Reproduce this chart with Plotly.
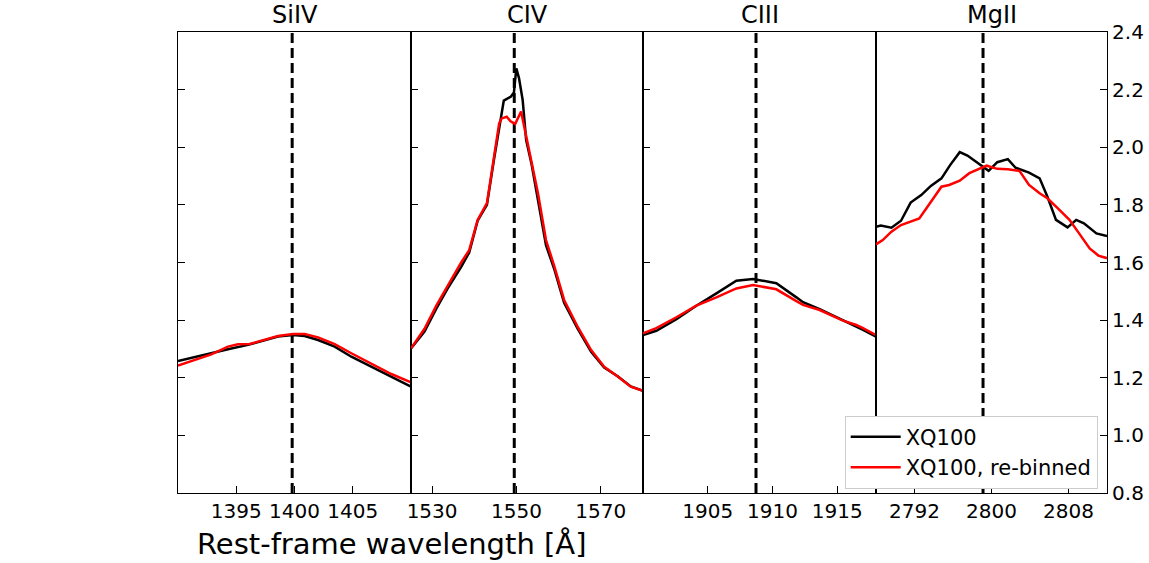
import plotly.graph_objects as go

W, H = 1149, 563

# ---------------- data ----------------
line_names = ["SiIV", "CIV", "CIII", "MgII"]
line_centres = [1399.8, 1549.48, 1908.73, 2799.12]
x_ranges = [[1390, 1410], [1525, 1580], [1900, 1918], [2788, 2812]]
x_tickvals = [[1395, 1400, 1405], [1530, 1550, 1570], [1905, 1910, 1915], [2792, 2800, 2808]]
y_tickvals = [0.8, 1.0, 1.2, 1.4, 1.6, 1.8, 2.0, 2.2, 2.4]

siiv_wave_xq = [1390, 1392.86, 1394.29, 1396.01, 1397.44, 1398.58, 1399.87, 1400.87, 1402.02, 1403.45, 1404.88, 1406.6, 1408.31, 1409.91, 1410]
siiv_flux_xq = [1.258, 1.287, 1.299, 1.314, 1.331, 1.343, 1.348, 1.345, 1.331, 1.308, 1.273, 1.238, 1.206, 1.171, 1.169]
siiv_wave_rb = [1390, 1391.43, 1392.86, 1394.29, 1395.15, 1396.15, 1397.44, 1398.58, 1399.87, 1400.87, 1402.02, 1403.45, 1404.88, 1406.6, 1408.31, 1410]
siiv_flux_rb = [1.242, 1.262, 1.281, 1.308, 1.316, 1.317, 1.331, 1.345, 1.352, 1.352, 1.340, 1.317, 1.285, 1.248, 1.213, 1.184]

civ_wave_xq = [1525, 1528.2, 1531, 1533.7, 1536.9, 1538.8, 1540.8, 1543, 1544.7, 1545.9, 1547.0, 1548.7, 1549.4, 1549.97, 1550.6, 1551.47, 1552.3, 1553.6, 1555.1, 1557, 1559, 1561.3, 1564.5, 1567.7, 1570.8, 1574, 1577.1, 1580]
civ_flux_xq = [1.302, 1.36, 1.44, 1.51, 1.585, 1.635, 1.745, 1.80, 1.96, 2.07, 2.162, 2.176, 2.19, 2.274, 2.24, 2.164, 2.025, 1.94, 1.82, 1.66, 1.575, 1.46, 1.37, 1.29, 1.235, 1.205, 1.17, 1.155]
civ_wave_rb = [1525, 1528.2, 1531, 1533.7, 1536.9, 1538.8, 1540.8, 1543, 1544.7, 1545.9, 1546.5, 1547.7, 1548.6, 1549.7, 1551.1, 1552.3, 1553.6, 1555.1, 1557, 1559, 1561.3, 1564.5, 1567.7, 1570.8, 1574, 1577.1, 1580]
civ_flux_rb = [1.302, 1.37, 1.45, 1.52, 1.60, 1.643, 1.748, 1.806, 1.967, 2.083, 2.10, 2.106, 2.09, 2.081, 2.124, 2.038, 1.956, 1.840, 1.678, 1.586, 1.47, 1.377, 1.296, 1.238, 1.204, 1.169, 1.155]

ciii_wave = [1900, 1901.03, 1902.58, 1904.12, 1905.67, 1907.21, 1908.5, 1910.3, 1911.85, 1912.36, 1913.65, 1915.45, 1916.48, 1917, 1918]
ciii_flux_xq = [1.348, 1.363, 1.403, 1.450, 1.493, 1.537, 1.543, 1.528, 1.479, 1.462, 1.438, 1.400, 1.378, 1.366, 1.343]
ciii_flux_rb = [1.354, 1.372, 1.410, 1.450, 1.479, 1.510, 1.522, 1.507, 1.466, 1.453, 1.435, 1.398, 1.383, 1.372, 1.348]

mgii_wave_xq = [2788, 2788.5, 2789.6, 2790.6, 2791.6, 2792.7, 2793.7, 2794.8, 2795.7, 2796.7, 2797.5, 2798.4, 2799.1, 2799.7, 2800.6, 2801.7, 2802.5, 2803.9, 2805, 2805.8, 2806.7, 2807.9, 2808.8, 2809.6, 2810.9, 2812]
mgii_flux_xq = [1.724, 1.728, 1.721, 1.745, 1.808, 1.834, 1.866, 1.892, 1.938, 1.983, 1.971, 1.95, 1.935, 1.918, 1.948, 1.959, 1.929, 1.912, 1.892, 1.829, 1.748, 1.722, 1.748, 1.736, 1.701, 1.692]
mgii_wave_rb = [2788, 2788.7, 2789.6, 2790.6, 2792.5, 2793.7, 2794.8, 2795.6, 2796.7, 2797.7, 2798.7, 2799.5, 2800.6, 2801.7, 2802.9, 2803.9, 2805, 2805.8, 2806.9, 2808.1, 2809.1, 2810.2, 2811.1, 2812]
mgii_flux_rb = [1.663, 1.678, 1.707, 1.73, 1.753, 1.811, 1.863, 1.869, 1.884, 1.91, 1.925, 1.936, 1.925, 1.924, 1.918, 1.869, 1.84, 1.823, 1.788, 1.748, 1.701, 1.649, 1.624, 1.615]

series_xq = [(siiv_wave_xq, siiv_flux_xq), (civ_wave_xq, civ_flux_xq), (ciii_wave, ciii_flux_xq), (mgii_wave_xq, mgii_flux_xq)]
series_rb = [(siiv_wave_rb, siiv_flux_rb), (civ_wave_rb, civ_flux_rb), (ciii_wave, ciii_flux_rb), (mgii_wave_rb, mgii_flux_rb)]

label_xq = "XQ100"
label_rb = "XQ100, re-binned"
xlabel = "Rest-frame wavelength [Å]"

# ---------------- layout ----------------
FONT = "DejaVu Sans"
px_edges = [178, 411, 643, 876, 1107]
y_top, y_bot = 32, 493
ydom = [1 - y_bot / H, 1 - y_top / H]

fig = go.Figure()
for i in range(4):
    sfx = "" if i == 0 else str(i + 1)
    xa, ya = "x" + sfx, "y" + sfx
    fig.add_trace(go.Scatter(x=[line_centres[i], line_centres[i]], y=[y_tickvals[0], y_tickvals[-1]],
                             mode="lines", line=dict(color="black", width=3, dash="10px,5px"),
                             xaxis=xa, yaxis=ya, showlegend=False, hoverinfo="skip"))
    fig.add_trace(go.Scatter(x=series_xq[i][0], y=series_xq[i][1], mode="lines",
                             line=dict(color="black", width=2.5), name=label_xq,
                             xaxis=xa, yaxis=ya, showlegend=(i == 3), legendrank=1))
    fig.add_trace(go.Scatter(x=series_rb[i][0], y=series_rb[i][1], mode="lines",
                             line=dict(color="red", width=2.5), name=label_rb,
                             xaxis=xa, yaxis=ya, showlegend=(i == 3), legendrank=2))

    dom = [px_edges[i] / W, px_edges[i + 1] / W]
    fig.update_layout(**{
        "xaxis" + sfx: dict(domain=dom, range=x_ranges[i], tickvals=x_tickvals[i], ticks="inside",
                            ticklen=7, tickwidth=1, tickcolor="black", showline=True, linecolor="black",
                            linewidth=1.2, mirror=True, showgrid=False, zeroline=False, anchor=ya,
                            automargin=False,
                            tickfont=dict(family=FONT, size=20, color="black")),
        "yaxis" + sfx: dict(domain=ydom, range=[y_tickvals[0], y_tickvals[-1]], tickvals=y_tickvals,
                            tickformat=".1f", ticks="inside", ticklen=7, tickwidth=1, tickcolor="black",
                            showline=True, linecolor="black", linewidth=1.2, mirror=True, showgrid=False,
                            zeroline=False, anchor=xa, showticklabels=(i == 3), automargin=False,
                            side="right" if i == 3 else "left",
                            tickfont=dict(family=FONT, size=20, color="black")),
    })
    fig.add_annotation(text=line_names[i], xref="paper", yref="paper",
                       x=(px_edges[i] + px_edges[i + 1]) / 2 / W, y=1 - 14.5 / H,
                       xanchor="center", yanchor="middle", showarrow=False,
                       font=dict(family=FONT, size=24, color="black"))

fig.add_annotation(text=xlabel, xref="paper", yref="paper", x=391 / W, y=1 - 544 / H,
                   xanchor="center", yanchor="middle", showarrow=False,
                   font=dict(family=FONT, size=29, color="black"))

fig.update_layout(
    width=W, height=H, margin=dict(l=0, r=0, t=0, b=0, autoexpand=False),
    paper_bgcolor="white", plot_bgcolor="white",
    font=dict(family=FONT, color="black"),
    legend=dict(x=1097.7 / W, y=1 - 415.7 / H, xanchor="right", yanchor="top",
                bgcolor="white", bordercolor="#cccccc", borderwidth=1, itemwidth=50,
                font=dict(family=FONT, size=21, color="black")),
)

fig.write_html("out.html")
